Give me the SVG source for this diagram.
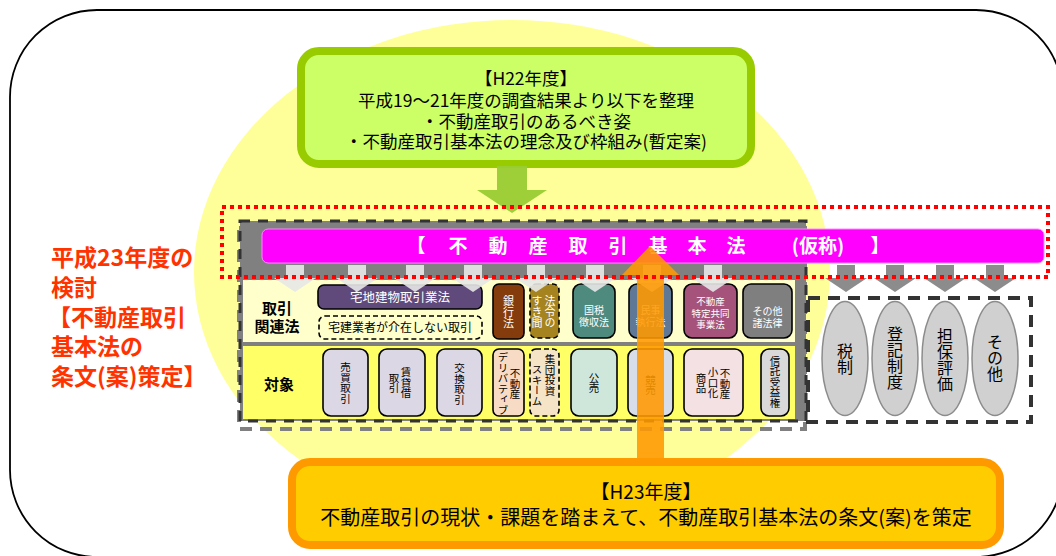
<svg xmlns="http://www.w3.org/2000/svg" width="1056" height="556" viewBox="0 0 1056 556">
<style>
.t{font-family:'Noto Sans CJK JP','Noto Sans CJK SC',sans-serif;}
.c{text-anchor:middle;}
.v{writing-mode:vertical-rl;text-anchor:middle;font-family:'Noto Sans CJK JP','Noto Sans CJK SC',sans-serif;}
.w{fill:#fff;}
.bx{stroke:#000;stroke-width:1.6;}
.dsh{stroke-dasharray:5 3;}
.la{fill:#e8e8e8;opacity:0.9;}
.ra{fill:#8c8c8c;}
.ov{fill:#d0d0d0;stroke:#8c8c8c;stroke-width:1.5;}
.red{fill:#ff3300;font-weight:bold;font-size:23px;}
.mg{fill:#fff;font-weight:bold;font-size:19px;text-anchor:middle;}
</style>
<defs>
<path id="la" d="M-9,0 H9 V13 H21 L0,27 L-21,13 H-9 Z"/>
</defs>

<g id="frame">
<rect x="10" y="10" width="1053" height="547" rx="87" fill="#fff" stroke="#000" stroke-width="1.8"/>
<ellipse cx="512" cy="272" rx="318" ry="252" fill="#ffff99"/>
</g>

<g id="h22">
<rect x="301" y="51" width="450" height="113" rx="18" fill="#ccff66" stroke="#99cc00" stroke-width="8"/>
<text class="t c" x="526" y="85" font-size="17.5">【H22年度】</text>
<text class="t c" x="526" y="107" font-size="17.5">平成19～21年度の調査結果より以下を整理</text>
<text class="t c" x="526" y="128" font-size="17.5">・不動産取引のあるべき姿</text>
<text class="t c" x="526" y="148" font-size="17.5">・不動産取引基本法の理念及び枠組み(暫定案)</text>
</g>

<g id="connectors">
<path d="M497,166 H527 V190 H547 L512,213 L477,190 H497 Z" fill="#99cc33" opacity="0.95"/>
</g>

<g id="table">
<rect x="239" y="228" width="566" height="201" fill="none" stroke="#808080" stroke-width="4" stroke-dasharray="12 8"/>
<rect x="240" y="221" width="566" height="200" fill="#808080" stroke="#333" stroke-width="3" stroke-dasharray="10 8"/>
<rect x="243" y="280" width="552" height="62" fill="#ffffcc"/>
<rect x="243" y="346" width="552" height="73" fill="#ffff66"/>
<text class="t c" x="277" y="314" font-size="15" font-weight="bold">取引<tspan x="277" dy="18">関連法</tspan></text>
<text class="t c" x="279" y="390" font-size="15" font-weight="bold">対象</text>
</g>

<g id="bar">
<rect x="262" y="229" width="782" height="34" rx="6" fill="#ff00ff" stroke="#ff88ff" stroke-width="1"/>
<text class="t mg" x="416" y="253">【</text>
<text class="t mg" x="458" y="253">不</text>
<text class="t mg" x="498" y="253">動</text>
<text class="t mg" x="538" y="253">産</text>
<text class="t mg" x="578" y="253">取</text>
<text class="t mg" x="618" y="253">引</text>
<text class="t mg" x="658" y="253">基</text>
<text class="t mg" x="697" y="253">本</text>
<text class="t mg" x="736" y="253">法</text>
<text class="t mg" x="818" y="253">(仮称)</text>
<text class="t mg" x="880" y="253">】</text>
</g>

<g id="row1">
<g id="takken"><rect class="bx" x="318" y="285" width="164" height="24" rx="6" fill="#604a7b"/><text class="t c w" x="400" y="302" font-size="12.5">宅地建物取引業法</text></g>
<g id="nontakken"><rect class="bx dsh" x="319" y="316" width="163" height="23" rx="6" fill="none"/><text class="t c" x="400" y="332" font-size="12">宅建業者が介在しない取引</text></g>
<g id="ginko"><rect class="bx" x="493" y="284" width="31" height="55" rx="6" fill="#843c0c"/><text class="v w" x="508.5" y="312" font-size="11">銀行法</text></g>
<g id="sukima"><rect class="bx dsh" x="530" y="284" width="29" height="54" rx="6" fill="#a5841f"/><text class="v w" x="550" y="312" font-size="11">法令の</text><text class="v w" x="537" y="312" font-size="11">すき間</text></g>
<g id="kokuzei"><rect class="bx" x="573" y="284" width="42" height="54" rx="8" fill="#4f8a7e"/><text class="t c w" x="594" y="314" font-size="10">国税<tspan x="594" dy="12">徴収法</tspan></text></g>
<g id="minji"><rect class="bx" x="629" y="284" width="43" height="54" rx="8" fill="#5e7896"/><text class="t c w" x="650.5" y="314" font-size="10">民事<tspan x="650.5" dy="12">執行法</tspan></text></g>
<g id="tokutei"><rect class="bx" x="684" y="284" width="53" height="54" rx="8" fill="#a5537b"/><text class="t c w" x="710.5" y="305" font-size="9.5">不動産<tspan x="710.5" dy="11.5">特定共同</tspan><tspan x="710.5" dy="11.5">事業法</tspan></text></g>
<g id="sonota"><rect class="bx" x="743" y="284" width="49" height="54" rx="8" fill="#7f7f7f"/><text class="t c w" x="767.5" y="315" font-size="10">その他<tspan x="767.5" dy="12">諸法律</tspan></text></g>
</g>

<g id="row2">
<g id="baibai"><rect class="bx" x="323" y="349" width="45" height="67" rx="8" fill="#dcd7e5"/><text class="v" x="345.5" y="383" font-size="10.5">売買取引</text></g>
<g id="chintai"><rect class="bx" x="379" y="349" width="46" height="67" rx="8" fill="#dcd7e5"/><text class="v" x="406" y="383" font-size="10.5">賃貸借</text><text class="v" x="394" y="383" font-size="10.5">取引</text></g>
<g id="kokan"><rect class="bx" x="437" y="349" width="45" height="67" rx="8" fill="#dcd7e5"/><text class="v" x="459.5" y="384" font-size="10.5">交換取引</text></g>
<g id="deriv"><rect class="bx" x="493" y="349" width="31" height="67" rx="6" fill="#f8dbc4"/><text class="v" x="515" y="384" font-size="10.5">不動産</text><text class="v" x="503" y="383.5" font-size="10.5">デリバティブ</text></g>
<g id="shudan"><rect class="bx dsh" x="530" y="349" width="29" height="67" rx="6" fill="#f5e4c5"/><text class="v" x="550" y="375" font-size="10.5">集団投資</text><text class="v" x="537" y="385" font-size="10.5">スキーム</text></g>
<g id="kobai"><rect class="bx" x="571" y="349" width="46" height="67" rx="8" fill="#cfe7db"/><text class="v" x="594" y="383" font-size="10.5">公売</text></g>
<g id="keibai"><rect class="bx" x="628" y="349" width="45" height="67" rx="8" fill="#d8ddea"/><text class="v" x="650.5" y="385" font-size="10.5">競売</text></g>
<g id="koguchi"><rect class="bx" x="684" y="349" width="59" height="67" rx="8" fill="#f3e1e4"/><text class="v" x="725" y="384" font-size="10.5">不動産</text><text class="v" x="713" y="383" font-size="10.5">小口化</text><text class="v" x="701" y="383" font-size="10.5">商品</text></g>
<g id="shintaku"><rect class="bx" x="761" y="349" width="28" height="67" rx="8" fill="#d9d9d9"/><text class="v" x="775" y="382" font-size="10.5">信託受益権</text></g>
</g>

<g id="arrows">
<use href="#la" class="la" x="295" y="265"/>
<use href="#la" class="la" x="357" y="265"/>
<use href="#la" class="la" x="415" y="265"/>
<use href="#la" class="la" x="473" y="265"/>
<use href="#la" class="la" x="536" y="265"/>
<use href="#la" class="la" x="595" y="265"/>
<use href="#la" class="la" x="652" y="265"/>
<use href="#la" class="la" x="713" y="265"/>
<use href="#la" class="ra" x="846" y="265"/>
<use href="#la" class="ra" x="895" y="265"/>
<use href="#la" class="ra" x="945" y="265"/>
<use href="#la" class="ra" x="995" y="265"/>
<path d="M637,462 V275 H622 L650,246 L679,275 H664 V462 Z" fill="#ff9900" opacity="0.88"/>
</g>

<g id="others">
<rect x="808" y="298" width="223" height="124" fill="none" stroke="#333" stroke-width="4" stroke-dasharray="12 8"/>
<g id="zeisei"><ellipse class="ov" cx="845" cy="358.5" rx="23" ry="57"/><text class="v" x="845" y="359" font-size="16">税制</text></g>
<g id="toki"><ellipse class="ov" cx="895" cy="358.5" rx="23" ry="57"/><text class="v" x="895" y="358" font-size="16">登記制度</text></g>
<g id="tanpo"><ellipse class="ov" cx="945" cy="358.5" rx="23" ry="57"/><text class="v" x="945" y="360" font-size="16">担保評価</text></g>
<g id="sonotaov"><ellipse class="ov" cx="995" cy="358.5" rx="23" ry="57"/><text class="v" x="995" y="358" font-size="16">その他</text></g>
</g>

<g id="h23">
<rect x="292" y="462" width="708" height="83" rx="18" fill="#ffcc00" stroke="#ff9900" stroke-width="8"/>
<text class="t c" x="646" y="499" font-size="19">【H23年度】</text>
<text class="t c" x="646" y="525" font-size="20">不動産取引の現状・課題を踏まえて、不動産取引基本法の条文(案)を策定</text>
</g>

<g id="scope">
<rect x="222" y="207" width="826" height="70" fill="none" stroke="#ff0000" stroke-width="4" stroke-dasharray="4 4"/>
</g>

<g id="label">
<text class="t red" x="51" y="266">平成23年度の<tspan x="51" dy="30">検討</tspan><tspan x="48" dy="30">【不動産取引</tspan><tspan x="51" dy="29">基本法の</tspan><tspan x="51" dy="30">条文(案)策定】</tspan></text>
</g>
</svg>
